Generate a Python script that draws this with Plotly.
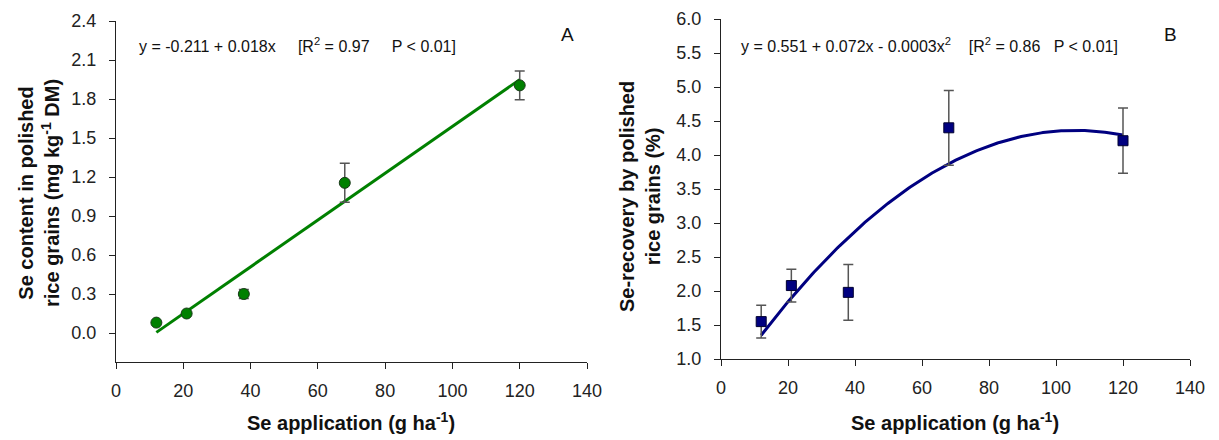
import numpy as np
import plotly.graph_objects as go

# ---- data ----
se_rate = [12, 21, 38, 68, 120]
se_content = [0.08, 0.15, 0.30, 1.155, 1.905]
se_content_err = [0.0, 0.0, 0.035, 0.15, 0.11]
se_recovery = [1.55, 2.08, 1.98, 4.40, 4.21]
se_recovery_err = [0.24, 0.24, 0.41, 0.55, 0.48]

# fitted regression coefficients (as drawn)
lin_coef = (-0.211, 0.018)
quad_coef = (0.53, 0.0724, -0.000342)

x_ticks = [0, 20, 40, 60, 80, 100, 120, 140]
yA_ticks = [0.0, 0.3, 0.6, 0.9, 1.2, 1.5, 1.8, 2.1, 2.4]
yB_ticks = [1.0, 1.5, 2.0, 2.5, 3.0, 3.5, 4.0, 4.5, 5.0, 5.5, 6.0]

xfit = np.linspace(min(se_rate), max(se_rate), 200)
yfitA = lin_coef[0] + lin_coef[1] * xfit
yfitB = quad_coef[0] + quad_coef[1] * xfit + quad_coef[2] * xfit ** 2

FONT = "Liberation Sans, Arial, sans-serif"
# page body has an 8px margin; window coords -> figure coords
OFF = 8
W, H = 1219 - OFF, 440 - OFF
L, R, T, B = 116 - OFF, 1219 - 1190, 19 - OFF, 440 - 362
PW, PH = W - L - R, H - T - B


def px(xw):
    return (xw - OFF - L) / PW


def py(yw):
    return 1 - (yw - OFF - T) / PH


fig = go.Figure()

fig.add_trace(go.Scatter(x=xfit, y=yfitA, mode="lines",
                         line=dict(color="#008000", width=3), xaxis="x", yaxis="y",
                         showlegend=False, hoverinfo="skip"))
fig.add_trace(go.Scatter(x=se_rate, y=se_content, mode="markers",
                         marker=dict(symbol="circle", size=11, color="#008000",
                                     line=dict(color="#1a3a1a", width=1)),
                         error_y=dict(type="data", array=se_content_err, visible=True,
                                      color="#555555", thickness=1.5, width=5),
                         xaxis="x", yaxis="y", showlegend=False))

fig.add_trace(go.Scatter(x=xfit, y=yfitB, mode="lines",
                         line=dict(color="#000080", width=3), xaxis="x2", yaxis="y2",
                         showlegend=False, hoverinfo="skip"))
fig.add_trace(go.Scatter(x=se_rate, y=se_recovery, mode="markers",
                         marker=dict(symbol="square", size=10, color="#000080",
                                     line=dict(color="#000030", width=1)),
                         error_y=dict(type="data", array=se_recovery_err, visible=True,
                                      color="#555555", thickness=1.5, width=5),
                         xaxis="x2", yaxis="y2", showlegend=False))

axis_common = dict(showgrid=False, zeroline=False, showline=True, linecolor="#222222",
                   linewidth=1.2, ticks="outside", ticklen=6, tickcolor="#222222",
                   automargin=False,
                   tickfont=dict(family=FONT, size=18, color="#222222"))

fig.update_layout(
    width=W, height=H,
    margin=dict(l=L, r=R, t=T, b=B),
    paper_bgcolor="white", plot_bgcolor="white",
    xaxis=dict(domain=[0, px(587)], range=[0, 140], tickvals=x_ticks, anchor="y",
               ticklabelstandoff=6, **axis_common),
    yaxis=dict(domain=[0, py(21)], range=[-0.223, 2.4], tickvals=yA_ticks,
               tickformat=".1f", anchor="x", ticklabelstandoff=9, **axis_common),
    xaxis2=dict(domain=[px(721), 1], range=[0, 140], tickvals=x_ticks, anchor="y2",
                ticklabelstandoff=6, **axis_common),
    yaxis2=dict(domain=[py(359), 1], range=[1.0, 6.0], tickvals=yB_ticks,
                tickformat=".1f", anchor="x2", ticklabelstandoff=9, **axis_common),
)

ann = []
ann.append(dict(text="y = -0.211 + 0.018x &nbsp;&nbsp;&nbsp; [R<sup>2</sup> = 0.97 &nbsp;&nbsp;&nbsp; P < 0.01]",
                xref="paper", yref="paper", x=px(137), y=py(45),
                xanchor="left", yanchor="middle", showarrow=False,
                font=dict(family=FONT, size=16, color="#111111")))
ann.append(dict(text="A", xref="paper", yref="paper", x=px(567), y=py(34),
                xanchor="center", yanchor="middle", showarrow=False,
                font=dict(family=FONT, size=19, color="#111111")))
ann.append(dict(text="y = 0.551 + 0.072x - 0.0003x<sup>2</sup> &nbsp;&nbsp; [R<sup>2</sup> = 0.86 &nbsp; P < 0.01]",
                xref="paper", yref="paper", x=px(739), y=py(45),
                xanchor="left", yanchor="middle", showarrow=False,
                font=dict(family=FONT, size=16, color="#111111")))
ann.append(dict(text="B", xref="paper", yref="paper", x=px(1170), y=py(34),
                xanchor="center", yanchor="middle", showarrow=False,
                font=dict(family=FONT, size=19, color="#111111")))
ann.append(dict(text="<b>Se content in polished<br>rice grains (mg kg<sup>-1</sup> DM)</b>",
                xref="paper", yref="paper", x=px(39), y=py(193),
                xanchor="center", yanchor="middle", textangle=-90, showarrow=False,
                font=dict(family=FONT, size=20, color="#111111")))
ann.append(dict(text="<b>Se-recovery by polished<br>rice grains (%)</b>",
                xref="paper", yref="paper", x=px(640), y=py(197),
                xanchor="center", yanchor="middle", textangle=-90, showarrow=False,
                font=dict(family=FONT, size=20, color="#111111")))
for cx in [351, 955]:
    ann.append(dict(text="<b>Se application (g ha<sup>-1</sup>)</b>",
                    xref="paper", yref="paper", x=px(cx), y=py(422),
                    xanchor="center", yanchor="middle", showarrow=False,
                    font=dict(family=FONT, size=20, color="#111111")))
fig.update_layout(annotations=ann)

fig.write_html("out.html")
